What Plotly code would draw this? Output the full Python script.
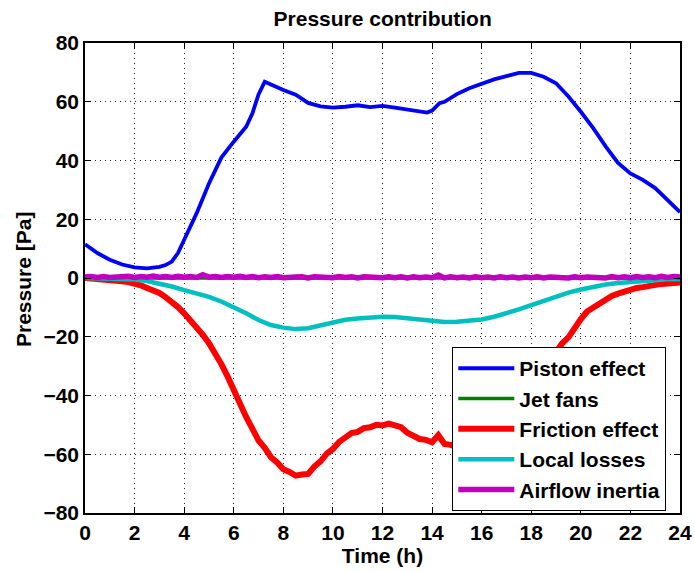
import plotly.graph_objects as go

# ---------------- data ----------------
time_piston = [0, 0.5, 1, 1.5, 2, 2.5, 3, 3.25, 3.5, 3.75, 4, 4.5, 5, 5.5, 6, 6.5, 6.75, 7,
               7.25, 7.5, 8, 8.5, 9, 9.5, 10, 10.5, 11, 11.5, 12, 12.5, 13, 13.5, 13.8, 14,
               14.3, 14.5, 15, 15.5, 16, 16.5, 17, 17.5, 18, 18.5, 19, 19.5, 20, 20.5, 21,
               21.5, 22, 22.5, 23, 23.5, 24]
piston_effect = [11.5, 8.5, 6.2, 4.6, 3.6, 3.3, 3.8, 4.4, 5.6, 8.5, 13.0, 22.0, 32.2, 41.0,
                 46.4, 51.5, 56.0, 62.5, 66.8, 65.8, 64.0, 62.4, 59.6, 58.4, 58.0, 58.3, 58.8,
                 58.2, 58.6, 58.0, 57.4, 56.8, 56.3, 57.0, 59.5, 60.0, 62.6, 64.6, 66.2, 67.6,
                 68.7, 69.8, 69.8, 68.5, 66.3, 61.8, 56.6, 51.0, 44.8, 39.2, 35.6, 33.4, 30.6,
                 26.6, 22.4]

time_jet = [0, 24]
jet_fans = [0.0, 0.0]

time_fine = [0, 0.25, 0.5, 0.75, 1, 1.25, 1.5, 1.75, 2, 2.25, 2.5, 2.75, 3, 3.25, 3.5, 3.75,
             4, 4.25, 4.5, 4.75, 5, 5.25, 5.5, 5.75, 6, 6.25, 6.5, 6.75, 7, 7.25, 7.5, 7.75,
             8, 8.25, 8.5, 8.75, 9, 9.25, 9.5, 9.75, 10, 10.25, 10.5, 10.75, 11, 11.25, 11.5,
             11.75, 12, 12.25, 12.5, 12.75, 13, 13.25, 13.5, 13.75, 14, 14.25, 14.5, 14.75,
             15, 15.25, 15.5, 15.75, 16, 16.25, 16.5, 16.75, 17, 17.25, 17.5, 17.75, 18,
             18.25, 18.5, 18.75, 19, 19.25, 19.5, 19.75, 20, 20.25, 20.5, 20.75, 21, 21.25,
             21.5, 21.75, 22, 22.25, 22.5, 22.75, 23, 23.25, 23.5, 23.75, 24]

friction_effect = [0.0, -0.1, -0.2, -0.4, -0.6, -0.8, -1.1, -1.4, -1.8, -2.5, -3.4, -4.2,
                   -5.1, -6.5, -8.0, -9.9, -12.0, -14.2, -16.7, -19.3, -22.2, -25.5, -29.3,
                   -33.5, -38.3, -42.6, -47.3, -51.3, -55.3, -57.8, -61.0, -62.8, -65.1,
                   -66.0, -67.3, -66.9, -66.7, -64.2, -62.4, -59.8, -58.2, -55.8, -54.4,
                   -52.8, -52.4, -51.1, -50.8, -50.0, -50.2, -49.6, -50.2, -50.8, -52.7,
                   -53.6, -54.8, -55.1, -55.9, -53.5, -56.5, -56.8, -57.5, -57.3, -57.4,
                   -56.1, -55.2, -53.0, -51.2, -48.4, -46.2, -43.0, -40.4, -37.1, -34.7,
                   -31.8, -29.8, -27.1, -25.2, -22.2, -20.2, -16.6, -14.0, -11.4, -10.0,
                   -8.3, -7.5, -6.1, -5.3, -4.5, -4.1, -3.4, -3.1, -2.6, -2.4, -2.0, -1.9,
                   -1.6, -1.5]

time_local = [0, 0.5, 1, 1.5, 2, 2.5, 3, 3.5, 4, 4.5, 5, 5.5, 6, 6.5, 7, 7.5, 8, 8.5, 9,
              9.5, 10, 10.5, 11, 11.5, 12, 12.5, 13, 13.5, 14, 14.5, 15, 15.5, 16, 16.5, 17,
              17.5, 18, 18.5, 19, 19.5, 20, 20.5, 21, 21.5, 22, 22.5, 23, 23.5, 24]
local_losses = [0.0, -0.1, -0.2, -0.3, -0.5, -1.0, -1.9, -2.9, -4.1, -5.2, -6.4, -8.0,
                -9.8, -12.0, -14.3, -16.0, -16.9, -17.4, -17.1, -16.1, -15.0, -14.2, -13.8,
                -13.4, -13.2, -13.3, -13.7, -14.0, -14.5, -15.0, -14.9, -14.6, -14.1, -13.2,
                -12.0, -10.7, -9.2, -7.7, -6.4, -5.0, -3.9, -3.0, -2.2, -1.7, -1.3, -0.9,
                -0.7, -0.4, -0.3]

airflow_inertia = [0.3, 0.5, 0.2, 0.5, 0.2, 0.4, 0.3, 0.6, 0.2, 0.5, 0.3, 0.7, 0.3, 0.5,
                   0.2, 0.6, 0.3, 0.5, 0.2, 1.1, 0.3, 0.5, 0.2, 0.5, 0.3, 0.6, 0.2, 0.5,
                   0.1, 0.4, 0.2, 0.5, 0.1, 0.4, 0.3, 0.4, 0.0, 0.4, 0.2, 0.4, 0.1, 0.5,
                   0.2, 0.4, 0.0, 0.4, 0.2, 0.3, 0.1, 0.4, 0.1, 0.4, 0.0, 0.4, 0.1, 0.3,
                   0.1, 1.0, 0.0, 0.4, 0.1, 0.3, 0.0, 0.4, 0.1, 0.3, 0.0, 0.4, 0.1, 0.3,
                   0.0, 0.3, 0.1, 0.4, 0.0, 0.3, 0.1, 0.3, 0.0, 0.4, 0.1, 0.3, 0.2, 0.4,
                   0.0, 0.5, 0.1, 0.4, 0.1, 0.5, 0.2, 0.4, 0.1, 0.6, 0.2, 0.5, 0.3]

x_ticks = [0, 2, 4, 6, 8, 10, 12, 14, 16, 18, 20, 22, 24]
y_ticks = [-80, -60, -40, -20, 0, 20, 40, 60, 80]

FONT = "Liberation Sans, Arial, Helvetica, sans-serif"

fig = go.Figure()
fig.add_trace(go.Scatter(x=time_piston, y=piston_effect, mode="lines", name="Piston effect",
                         line=dict(color="#0000ff", width=3.8)))
fig.add_trace(go.Scatter(x=time_jet, y=jet_fans, mode="lines", name="Jet fans",
                         line=dict(color="#008000", width=3.5)))
fig.add_trace(go.Scatter(x=time_fine, y=friction_effect, mode="lines", name="Friction effect",
                         line=dict(color="#ff0000", width=6)))
fig.add_trace(go.Scatter(x=time_local, y=local_losses, mode="lines", name="Local losses",
                         line=dict(color="#00bfbf", width=4.5)))
fig.add_trace(go.Scatter(x=time_fine, y=airflow_inertia, mode="lines", name="Airflow inertia",
                         line=dict(color="#bf00bf", width=5.5)))

axis_common = dict(
    showline=True, linecolor="black", linewidth=1.5, mirror="ticks",
    ticks="inside", ticklen=6, tickwidth=1, tickcolor="black",
    showgrid=True, gridcolor="#222222", gridwidth=1, griddash="1px,4px",
    zeroline=False,
    tickfont=dict(family=FONT, size=21, color="black", weight="bold"),
)

title_font = dict(family=FONT, size=21, color="black", weight="bold")

fig.update_layout(
    width=695, height=572,
    margin=dict(l=85, r=15, t=43, b=59, autoexpand=False),
    paper_bgcolor="white", plot_bgcolor="white",
    title=dict(text="Pressure contribution", x=0.5506, xanchor="center", y=0.968,
               yanchor="middle", font=title_font),
    xaxis=dict(range=[0, 24], tickvals=x_ticks, automargin=False,
               title=dict(text="Time (h)", standoff=5, font=title_font),
               **axis_common),
    yaxis=dict(range=[-80, 80], tickvals=y_ticks, automargin=False, **axis_common),
    annotations=[dict(text="Pressure [Pa]", textangle=-90, xref="paper", yref="paper",
                      x=-0.1042, y=0.4957, xanchor="center", yanchor="middle",
                      showarrow=False, font=title_font)],
    legend=dict(x=0.977, xanchor="right", y=0.004, yanchor="bottom",
                bgcolor="white", bordercolor="black", borderwidth=1, itemwidth=56,
                font=dict(family=FONT, size=21, color="black", weight="bold")),
    showlegend=True,
)

fig.write_html("out.html")
